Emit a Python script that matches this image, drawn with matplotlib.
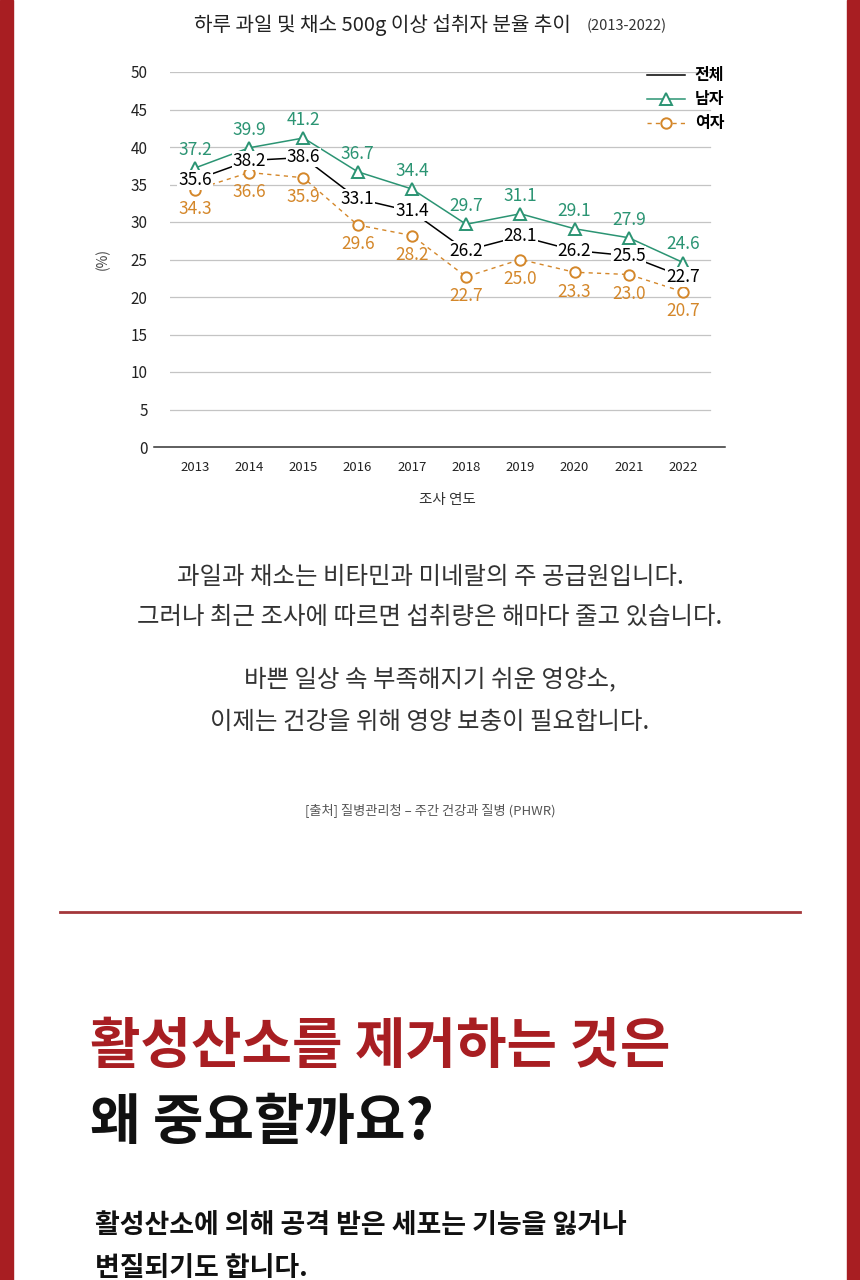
import matplotlib.pyplot as plt
from matplotlib.patches import Rectangle
from matplotlib.lines import Line2D

plt.rcParams['font.family'] = ['Noto Sans CJK KR', 'DejaVu Sans']

years = [2013, 2014, 2015, 2016, 2017, 2018, 2019, 2020, 2021, 2022]
total = [35.6, 38.2, 38.6, 33.1, 31.4, 26.2, 28.1, 26.2, 25.5, 22.7]
male = [37.2, 39.9, 41.2, 36.7, 34.4, 29.7, 31.1, 29.1, 27.9, 24.6]
female = [34.3, 36.6, 35.9, 29.6, 28.2, 22.7, 25.0, 23.3, 23.0, 20.7]
y_ticks = [0, 5, 10, 15, 20, 25, 30, 35, 40, 45, 50]

RED = '#a81e22'
TEAL = '#2b9473'
ORANGE = '#d4872a'

W, H = 860, 1280
fig = plt.figure(figsize=(W / 100, H / 100), dpi=100)
fig.patch.set_facecolor('white')

# red side borders
fig.add_artist(Rectangle((0, 0), 13 / W, 1, transform=fig.transFigure, color=RED, zorder=5))
fig.add_artist(Rectangle((1 - 13 / W, 0), 13 / W, 1, transform=fig.transFigure, color=RED, zorder=5))

# chart area
left, right, bottom, top = 170, 725, 447, 72
ax = fig.add_axes([left / W, 1 - bottom / H, (right - left) / W, (bottom - top) / H])
step = (683 - 195) / 9
ax.set_xlim(2013 - (195 - left) / step, 2022 + (right - 683) / step)
ax.set_ylim(0, 50)

for s in ax.spines.values():
    s.set_visible(False)
for t in y_ticks[1:]:
    ax.axhline(t, xmin=0, xmax=(710 - left) / (right - left), color='#c4c4c4', lw=0.9, zorder=0)
ax.axhline(0, xmin=-(left - 154) / (right - left), xmax=1, color='#333333', lw=1.1, clip_on=False, zorder=1)

ax.set_yticks(y_ticks)
ax.set_xticks(years)
ax.tick_params(axis='y', length=0, pad=16, labelsize=11, labelcolor='#222222')
ax.tick_params(axis='x', length=0, pad=10, labelsize=9.5, labelcolor='#222222')

ax.plot(years, total, color='black', lw=1.1, zorder=2, label='전체')
ax.plot(years, male, color=TEAL, lw=1.1, marker='^', ms=8, mfc='white', mec=TEAL, mew=1.4,
        zorder=3, label='남자', clip_on=False)
ax.plot(years, female, color=ORANGE, lw=1.0, ls=(0, (3, 3)), marker='o', ms=7.5, mfc='white',
        mec=ORANGE, mew=1.4, zorder=3, label='여자', clip_on=False)

for x, v in zip(years, male):
    ax.annotate(f'{v:.1f}', (x, v), xytext=(0, 13), textcoords='offset points', ha='center',
                va='center', fontsize=12.5, fontweight='medium', color=TEAL, zorder=6)
for x, v in zip(years, female):
    ax.annotate(f'{v:.1f}', (x, v), xytext=(0, -14), textcoords='offset points', ha='center',
                va='center', fontsize=12.5, fontweight='medium', color=ORANGE, zorder=6)
for x, v in zip(years, total):
    ax.annotate(f'{v:.1f}', (x, v), xytext=(0, 0), textcoords='offset points', ha='center',
                va='center', fontsize=12.5, fontweight='medium', color='black', zorder=6,
                bbox=dict(boxstyle='square,pad=0.05', fc='white', ec='none'))

leg = ax.legend(loc='upper right', bbox_to_anchor=(1.01, 1.03), frameon=False, fontsize=11.5,
                handlelength=2.4, labelspacing=0.5, handletextpad=0.6, borderaxespad=0)
for t in leg.get_texts():
    t.set_fontweight('bold')

ax.set_ylabel('(%)', fontsize=10, color='#444444', labelpad=15)
ax.set_xlabel('조사 연도', fontsize=10.5, color='#333333', labelpad=14)

# title
fig.text(571 / W, 1 - 25 / H, '하루 과일 및 채소 500g 이상 섭취자 분율 추이', ha='right', va='center',
         fontsize=14.5, fontweight='medium', color='#222222')
fig.text(587 / W, 1 - 26 / H, '(2013-2022)', ha='left', va='center', fontsize=10.5, color='#333333')

# body text
body = [('과일과 채소는 비타민과 미네랄의 주 공급원입니다.', 577),
        ('그러나 최근 조사에 따르면 섭취량은 해마다 줄고 있습니다.', 617),
        ('바쁜 일상 속 부족해지기 쉬운 영양소,', 680),
        ('이제는 건강을 위해 영양 보충이 필요합니다.', 722)]
for txt, yy in body:
    fig.text(0.5, 1 - yy / H, txt, ha='center', va='center', fontsize=17.6, color='#333333')

fig.text(0.5, 1 - 810 / H, '[출처] 질병관리청 – 주간 건강과 질병 (PHWR)', ha='center', va='center',
         fontsize=9.5, color='#555555')

fig.add_artist(Line2D([60 / W, 800 / W], [1 - 912 / H, 1 - 912 / H], transform=fig.transFigure,
                      color='#a3373a', lw=2))

fig.text(90 / W, 1 - 1047 / H, '활성산소를 제거하는 것은', ha='left', va='center', fontsize=39.5,
         fontweight='black', color=RED)
fig.text(90 / W, 1 - 1122 / H, '왜 중요할까요?', ha='left', va='center', fontsize=39.5,
         fontweight='black', color='#111111')

fig.text(95 / W, 1 - 1225 / H, '활성산소에 의해 공격 받은 세포는 기능을 잃거나', ha='left', va='center',
         fontsize=19.4, fontweight='bold', color='#111111')
fig.text(95 / W, 1 - 1268 / H, '변질되기도 합니다.', ha='left', va='center',
         fontsize=19.4, fontweight='bold', color='#111111')

fig.savefig('out.png', dpi=100)
